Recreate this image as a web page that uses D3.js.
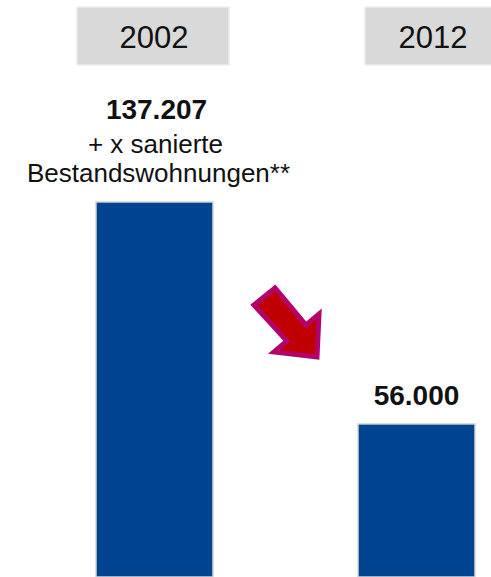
<!DOCTYPE html>
<html><head><meta charset="utf-8">
<script src="https://cdn.jsdelivr.net/npm/d3@7"></script>
<style>html,body{margin:0;padding:0;background:#fff;overflow:hidden}</style>
</head><body>
<svg id="c" width="491" height="577"></svg>
<script>
const categories = ["2002", "2012"];
const values = [137207, 56000];
const valueLabels = ["137.207", "56.000"];
const noteLines = ["+ x sanierte", "Bestandswohnungen**"];

const svg = d3.select("#c");
const font = "'Liberation Sans', Arial, sans-serif";

const x = d3.scaleBand().domain(categories).range([96, 475]).paddingInner(0.5534).paddingOuter(0);
const y = d3.scaleLinear().domain([0, values[0]]).range([577, 202]);

// header boxes
const headers = [{cat: "2002", x0: 77, x1: 229, tx: 154}, {cat: "2012", x0: 365, x1: 520, tx: 433}];
svg.selectAll("rect.hdr").data(headers).join("rect")
  .attr("class", "hdr")
  .attr("x", d => d.x0).attr("y", 7)
  .attr("width", d => d.x1 - d.x0).attr("height", 58)
  .attr("fill", "#D9D9D9").attr("stroke", "#EDEDED").attr("stroke-width", 1.5);
svg.selectAll("text.hdr").data(headers).join("text")
  .attr("class", "hdr")
  .attr("x", d => d.tx).attr("y", 48)
  .attr("text-anchor", "middle")
  .attr("font-family", font).attr("font-size", 31).attr("fill", "#111")
  .text(d => d.cat);

// bars
const data = categories.map((c, i) => ({c, v: values[i], label: valueLabels[i]}));
svg.selectAll("rect.bar").data(data).join("rect")
  .attr("class", "bar")
  .attr("x", d => x(d.c)).attr("y", d => y(d.v))
  .attr("width", x.bandwidth()).attr("height", d => y(0) - y(d.v))
  .attr("fill", "#00438F").attr("stroke", "#D4D4D4").attr("stroke-width", 1.5);

// value labels
svg.append("text")
  .attr("x", x("2002") + x.bandwidth() / 2 + 2).attr("y", y(values[0]) - 83)
  .attr("text-anchor", "middle").attr("font-family", font)
  .attr("font-size", 28).attr("font-weight", "bold").attr("fill", "#111")
  .text(valueLabels[0]);
svg.append("text")
  .attr("x", x("2002") + x.bandwidth() / 2 + 1).attr("y", y(values[0]) - 49)
  .attr("text-anchor", "middle").attr("font-family", font)
  .attr("font-size", 26).attr("fill", "#111")
  .text(noteLines[0]);
svg.append("text")
  .attr("x", x("2002") + x.bandwidth() / 2 + 4).attr("y", y(values[0]) - 20)
  .attr("text-anchor", "middle").attr("font-family", font)
  .attr("font-size", 26).attr("fill", "#111")
  .text(noteLines[1]);
svg.append("text")
  .attr("x", x("2012") + x.bandwidth() / 2).attr("y", y(values[1]) - 19)
  .attr("text-anchor", "middle").attr("font-family", font)
  .attr("font-size", 28).attr("font-weight", "bold").attr("fill", "#111")
  .text(valueLabels[1]);

// arrow
const arrow = [[254,305],[275,288],[306,325],[319,314],[317,357],[274,352],[287,341]];
svg.append("path")
  .attr("d", d3.line()(arrow) + "Z")
  .attr("fill", "#C00000").attr("stroke", "#B3006B").attr("stroke-width", 5)
  .attr("stroke-linejoin", "miter");
</script>
</body></html>
